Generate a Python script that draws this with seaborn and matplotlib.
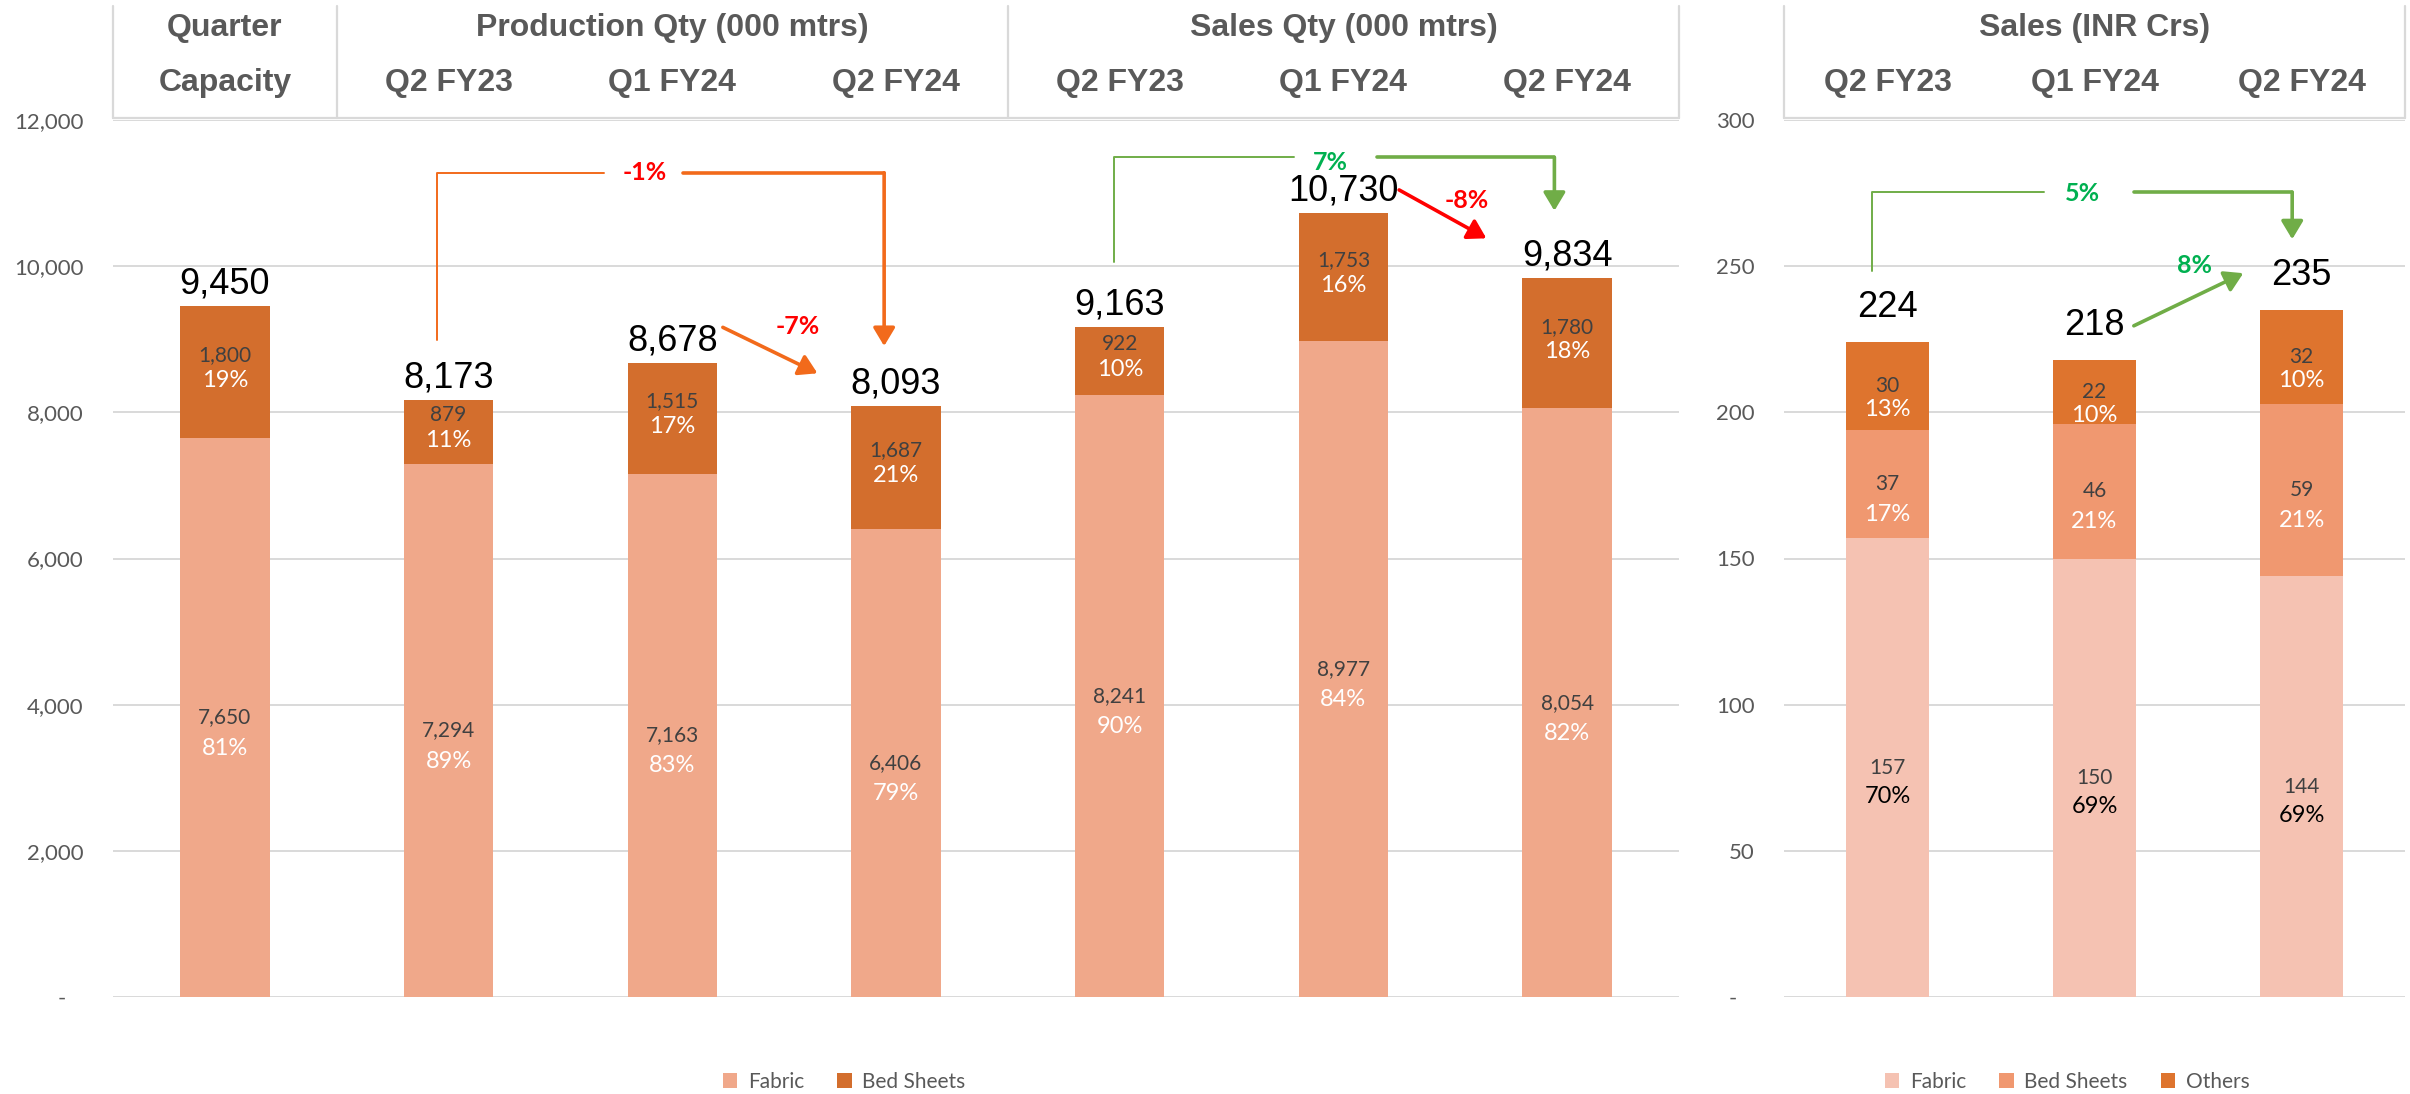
import matplotlib
matplotlib.use("Agg")
import matplotlib.pyplot as plt
import seaborn as sns
import pandas as pd

# ---- data ----
qty_cats = ["Capacity", "Prod Q2 FY23", "Prod Q1 FY24", "Prod Q2 FY24",
            "Sales Q2 FY23", "Sales Q1 FY24", "Sales Q2 FY24"]
qty_fabric = [7650, 7294, 7163, 6406, 8241, 8977, 8054]
qty_bed = [1800, 879, 1515, 1687, 922, 1753, 1780]
qty_fabric_pct = ["81%", "89%", "83%", "79%", "90%", "84%", "82%"]
qty_bed_pct = ["19%", "11%", "17%", "21%", "10%", "16%", "18%"]
qty_ticks = [0, 2000, 4000, 6000, 8000, 10000, 12000]

inr_cats = ["Q2 FY23", "Q1 FY24", "Q2 FY24"]
inr_fabric = [157, 150, 144]
inr_bed = [37, 46, 59]
inr_others = [30, 22, 32]
inr_fabric_pct = ["70%", "69%", "69%"]
inr_bed_pct = ["17%", "21%", "21%"]
inr_others_pct = ["13%", "10%", "10%"]
inr_ticks = [0, 50, 100, 150, 200, 250, 300]

qty_header = [("Quarter", ["Capacity"]),
              ("Production Qty (000 mtrs)", ["Q2 FY23", "Q1 FY24", "Q2 FY24"]),
              ("Sales Qty (000 mtrs)", ["Q2 FY23", "Q1 FY24", "Q2 FY24"])]
inr_header = [("Sales (INR Crs)", ["Q2 FY23", "Q1 FY24", "Q2 FY24"])]

# growth call-outs: (text, colour)
qty_growth = [("-1%", "#FF0000"), ("-7%", "#FF0000"), ("7%", "#00B050"), ("-8%", "#FF0000")]
inr_growth = [("5%", "#00B050"), ("8%", "#00B050")]

# ---- style ----
sns.set_style("white")
plt.rcParams["font.family"] = ["Lato", "DejaVu Sans"]

FAB = "#F0A88A"
BED = "#D36E2D"
R_FAB = "#F5C2B2"
R_BED = "#F09870"
R_OTH = "#DE742E"
GRID = "#D9D9D9"
GREY = "#595959"
ORANGE = "#F26A1B"
GREEN = "#70AD47"

W, H = 2410, 1094
fig = plt.figure(figsize=(W / 100, H / 100), dpi=100)

ax_l = fig.add_axes([113 / W, 97 / H, 1566 / W, 877 / H])
ax_r = fig.add_axes([1784 / W, 97 / H, 621 / W, 877 / H])

# left panel: stacked via overlapping cumulative bars
df_q = pd.DataFrame({"cat": qty_cats, "fabric": qty_fabric, "bed": qty_bed})
df_q["total"] = df_q["fabric"] + df_q["bed"]
sns.barplot(data=df_q, x="cat", y="total", color=BED, saturation=1, width=0.4,
            errorbar=None, linewidth=0, label="Bed Sheets", ax=ax_l)
sns.barplot(data=df_q, x="cat", y="fabric", color=FAB, saturation=1, width=0.4,
            errorbar=None, linewidth=0, label="Fabric", ax=ax_l)

# right panel
df_r = pd.DataFrame({"cat": inr_cats, "fabric": inr_fabric, "bed": inr_bed, "others": inr_others})
df_r["fb"] = df_r["fabric"] + df_r["bed"]
df_r["total"] = df_r["fb"] + df_r["others"]
sns.barplot(data=df_r, x="cat", y="total", color=R_OTH, saturation=1, width=0.4,
            errorbar=None, linewidth=0, label="Others", ax=ax_r)
sns.barplot(data=df_r, x="cat", y="fb", color=R_BED, saturation=1, width=0.4,
            errorbar=None, linewidth=0, label="Bed Sheets", ax=ax_r)
sns.barplot(data=df_r, x="cat", y="fabric", color=R_FAB, saturation=1, width=0.4,
            errorbar=None, linewidth=0, label="Fabric", ax=ax_r)


def style_axis(ax, ticks, n):
    ax.set_ylim(ticks[0], ticks[-1])
    ax.set_xlim(-0.5, n - 0.5)
    ax.set_yticks(ticks)
    ax.set_yticklabels(["-   " if t == 0 else f"{t:,}" for t in ticks])
    ax.set_xticks([])
    ax.set_xlabel("")
    ax.set_ylabel("")
    for s in ax.spines.values():
        s.set_visible(False)
    ax.yaxis.grid(True, color=GRID, lw=1.4)
    ax.set_axisbelow(True)
    ax.tick_params(axis="y", length=0, pad=21, labelsize=16, labelcolor=GREY)


style_axis(ax_l, qty_ticks, len(qty_cats))
style_axis(ax_r, inr_ticks, len(inr_cats))


def seg_label(ax, x, y, text, color, dy, size=15):
    ax.annotate(text, (x, y), xytext=(0, dy), textcoords="offset points",
                ha="center", va="center", fontsize=size, color=color)


# left labels
for i in range(len(qty_cats)):
    f, b = qty_fabric[i], qty_bed[i]
    seg_label(ax_l, i, f / 2, f"{f:,}", "#404040", 0)
    seg_label(ax_l, i, f / 2, qty_fabric_pct[i], "white", -22, 17)
    seg_label(ax_l, i, f + b / 2, f"{b:,}", "#404040", 12)
    seg_label(ax_l, i, f + b / 2, qty_bed_pct[i], "white", -6, 17)
    ax_l.annotate(f"{f + b:,}", (i, f + b), xytext=(0, 9), textcoords="offset points",
                  ha="center", va="baseline", fontsize=26, color="black",
                  family="Liberation Sans")

# right labels
for i in range(len(inr_cats)):
    f, b, o = inr_fabric[i], inr_bed[i], inr_others[i]
    seg_label(ax_r, i, f / 2, f"{f}", "#404040", 0)
    seg_label(ax_r, i, f / 2, inr_fabric_pct[i], "black", -21, 17)
    seg_label(ax_r, i, f + b / 2, f"{b}", "#404040", 0)
    seg_label(ax_r, i, f + b / 2, inr_bed_pct[i], "white", -22, 17)
    seg_label(ax_r, i, f + b + o / 2, f"{o}", "#404040", 0)
    seg_label(ax_r, i, f + b + o / 2, inr_others_pct[i], "white", -17, 17)
    ax_r.annotate(f"{f + b + o}", (i, f + b + o), xytext=(0, 18), textcoords="offset points",
                  ha="center", va="baseline", fontsize=26, color="black",
                  family="Liberation Sans")

ARROW = "-|>,head_length=0.5,head_width=0.3"


def bracket(ax, x0, y0, ytop, gap0, gap1, x1, y1, tx, ty, text, tcolor, lcolor):
    ax.plot([x0, x0, gap0], [y0, ytop, ytop], color=lcolor, lw=1.4, clip_on=False)
    ax.plot([gap1, x1], [ytop, ytop], color=lcolor, lw=2.6, clip_on=False)
    ax.annotate("", xy=(x1, y1), xytext=(x1, ytop + 0.001),
                arrowprops=dict(arrowstyle=ARROW, mutation_scale=22, color=lcolor,
                                lw=2.6, shrinkA=0, shrinkB=0))
    ax.text(tx, ty, text, ha="center", va="center", fontsize=18, fontweight="bold", color=tcolor)


def diag(ax, x0, y0, x1, y1, tx, ty, text, tcolor, lcolor):
    ax.annotate("", xy=(x1, y1), xytext=(x0, y0),
                arrowprops=dict(arrowstyle=ARROW, mutation_scale=22, color=lcolor,
                                lw=2.6, shrinkA=0, shrinkB=0))
    ax.text(tx, ty, text, ha="center", va="center", fontsize=18, fontweight="bold", color=tcolor)


bracket(ax_l, 0.948, 8990, 11278, 1.693, 2.046, 2.947, 8907, 1.876, 11278,
        qty_growth[0][0], qty_growth[0][1], ORANGE)
diag(ax_l, 2.226, 9163, 2.649, 8534, 2.561, 9171, qty_growth[1][0], qty_growth[1][1], ORANGE)
bracket(ax_l, 3.976, 10061, 11490, 4.777, 5.150, 5.943, 10758, 4.942, 11415,
        qty_growth[2][0], qty_growth[2][1], GREEN)
diag(ax_l, 5.249, 11043, 5.639, 10381, 5.550, 10892, qty_growth[3][0], qty_growth[3][1], "#FF0000")

bracket(ax_r, -0.076, 248.4, 275.3, 0.758, 1.190, 1.955, 259.2, 0.943, 274.9,
        inr_growth[0][0], inr_growth[0][1], GREEN)
diag(ax_r, 1.190, 229.6, 1.719, 247.6, 1.483, 250.1, inr_growth[1][0], inr_growth[1][1], GREEN)


# header tables
def header(rect, n, groups):
    hx = fig.add_axes(rect)
    hx.set_xlim(-0.5, n - 0.5)
    hx.set_ylim(0, 1)
    hx.axis("off")
    hx.axhline(0, color=GRID, lw=1.6, clip_on=False)
    hx.axvline(-0.5, color=GRID, lw=1.6, clip_on=False)
    pos = 0
    for title, subs in groups:
        end = pos + len(subs) - 0.5
        hx.axvline(end, color=GRID, lw=1.6, clip_on=False)
        hx.text((pos - 0.5 + end) / 2, 0.80, title, ha="center", va="center",
                fontsize=23, fontweight="bold", color=GREY, family="Liberation Sans")
        for k, s in enumerate(subs):
            hx.text(pos + k, 0.31, s, ha="center", va="center",
                    fontsize=23, fontweight="bold", color=GREY, family="Liberation Sans")
        pos += len(subs)


header([113 / W, (H - 118) / H, 1566 / W, 112 / H], len(qty_cats), qty_header)
header([1784 / W, (H - 118) / H, 621 / W, 112 / H], len(inr_cats), inr_header)


# legends
def legend(ax, order, xc):
    handles, labels = ax.get_legend_handles_labels()
    lookup = dict(zip(labels, handles))
    ax.legend([lookup[o] for o in order], order, loc="center", bbox_to_anchor=(xc, -0.097),
              ncol=len(order), frameon=False, fontsize=15, labelcolor=GREY,
              handlelength=0.7, handleheight=0.7, handletextpad=0.5, columnspacing=1.6)


legend(ax_l, ["Fabric", "Bed Sheets"], 0.467)
legend(ax_r, ["Fabric", "Bed Sheets", "Others"], 0.456)

fig.savefig("out.png", dpi=100)
